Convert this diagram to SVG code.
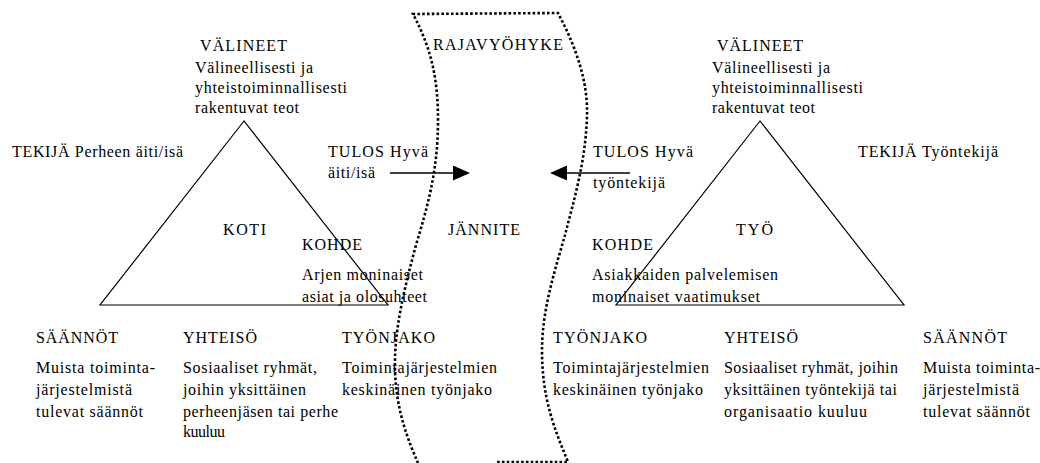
<svg xmlns="http://www.w3.org/2000/svg" width="1040" height="463" viewBox="0 0 1040 463" font-family="Liberation Serif, DejaVu Serif, serif" font-size="16">
<style>
text{fill:#000}
.tri{fill:none;stroke:#000;stroke-width:1.2}
.dot{fill:none;stroke:#000;stroke-width:2.6;stroke-dasharray:2.6 2.2}
.arr{stroke:#000;stroke-width:1.5;fill:none}
</style>
<defs>
<marker id="ah" markerUnits="userSpaceOnUse" markerWidth="18" markerHeight="16" refX="0" refY="7.5" orient="auto">
<path d="M0,0 L17,7.5 L0,15 z" fill="#000"/>
</marker>
</defs>
<rect width="1040" height="463" fill="#fff"/>

<g id="boundary">
<path class="dot" d="M418,463 C408,440 396,410 395,370 C394,330 404,290 416,245 C428,205 438,170 438,120 C438,80 432,50 413,14 L558,13 C575,45 588,80 587,115 C586,160 574,200 565,235 C555,270 542,310 542,350 C542,400 555,430 568,462 L495,462"/>
</g>

<g id="tri-left">
<polygon class="tri" points="244,121 100,305 388,305"/>
<text x="223" y="235" textLength="43">KOTI</text>
</g>
<g id="tri-right">
<polygon class="tri" points="760,121 616,305 904,305"/>
<text x="736" y="235" textLength="37">TYÖ</text>
</g>

<g id="valineet-left">
<text x="200" y="51" textLength="87">VÄLINEET</text>
<text x="195" y="73" textLength="118">Välineellisesti ja</text>
<text x="195" y="93" textLength="152">yhteistoiminnallisesti</text>
<text x="195" y="113" textLength="104">rakentuvat teot</text>
</g>
<g id="valineet-right">
<text x="717" y="51" textLength="86">VÄLINEET</text>
<text x="712" y="73" textLength="118">Välineellisesti ja</text>
<text x="712" y="93" textLength="151">yhteistoiminnallisesti</text>
<text x="712" y="113" textLength="103">rakentuvat teot</text>
</g>

<g id="tekija-left"><text x="12" y="157" textLength="171">TEKIJÄ Perheen äiti/isä</text></g>
<g id="tekija-right"><text x="858" y="157" textLength="140">TEKIJÄ Työntekijä</text></g>

<g id="tulos-left">
<text x="328" y="157" textLength="100">TULOS Hyvä</text>
<text x="328" y="178" textLength="47">äiti/isä</text>
</g>
<g id="tulos-right">
<text x="593" y="157" textLength="100">TULOS Hyvä</text>
<text x="593" y="188" textLength="72">työntekijä</text>
</g>

<g id="rajavyohyke"><text x="433" y="50" textLength="130">RAJAVYÖHYKE</text></g>
<g id="jannite"><text x="448" y="235" textLength="72">JÄNNITE</text></g>

<g id="kohde-left">
<text x="302" y="250" textLength="60">KOHDE</text>
<text x="302" y="280" textLength="121">Arjen moninaiset</text>
<text x="302" y="302" textLength="125">asiat ja olosuhteet</text>
</g>
<g id="kohde-right">
<text x="592" y="250" textLength="61">KOHDE</text>
<text x="592" y="280" textLength="186">Asiakkaiden palvelemisen</text>
<text x="592" y="302" textLength="168">moninaiset vaatimukset</text>
</g>

<g id="saannot-left">
<text x="36" y="343" textLength="82">SÄÄNNÖT</text>
<text x="36" y="373" textLength="119">Muista toiminta-</text>
<text x="36" y="395" textLength="96">järjestelmistä</text>
<text x="36" y="417" textLength="107">tulevat säännöt</text>
</g>
<g id="yhteiso-left">
<text x="183" y="343" textLength="74">YHTEISÖ</text>
<text x="183" y="373" textLength="134">Sosiaaliset ryhmät,</text>
<text x="183" y="395" textLength="123">joihin yksittäinen</text>
<text x="183" y="417" textLength="155">perheenjäsen tai perhe</text>
<text x="183" y="437" textLength="42">kuuluu</text>
</g>
<g id="tyonjako-left">
<text x="342" y="343" textLength="93">TYÖNJAKO</text>
<text x="342" y="373" textLength="155">Toimintajärjestelmien</text>
<text x="342" y="395" textLength="150">keskinäinen työnjako</text>
</g>
<g id="tyonjako-right">
<text x="553" y="343" textLength="94">TYÖNJAKO</text>
<text x="553" y="373" textLength="156">Toimintajärjestelmien</text>
<text x="553" y="395" textLength="150">keskinäinen työnjako</text>
</g>
<g id="yhteiso-right">
<text x="724" y="343" textLength="74">YHTEISÖ</text>
<text x="724" y="373" textLength="174">Sosiaaliset ryhmät, joihin</text>
<text x="724" y="395" textLength="173">yksittäinen työntekijä tai</text>
<text x="724" y="417" textLength="143">organisaatio kuuluu</text>
</g>
<g id="saannot-right">
<text x="923" y="343" textLength="84">SÄÄNNÖT</text>
<text x="923" y="373" textLength="117">Muista toiminta-</text>
<text x="923" y="395" textLength="96">järjestelmistä</text>
<text x="923" y="417" textLength="107">tulevat säännöt</text>
</g>

<g id="connectors">
<line class="arr" x1="390" y1="173" x2="453" y2="173" marker-end="url(#ah)"/>
<line class="arr" x1="630" y1="173" x2="567" y2="173" marker-end="url(#ah)"/>
</g>
</svg>
